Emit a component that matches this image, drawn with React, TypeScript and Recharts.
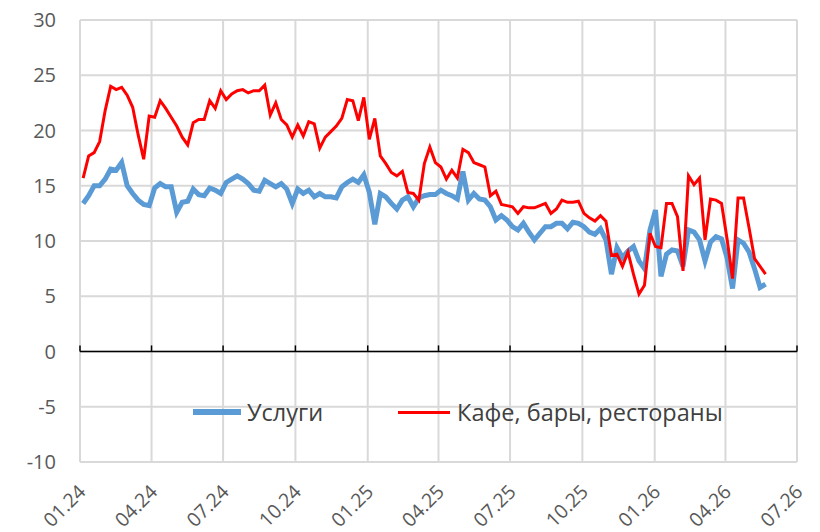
import { CartesianGrid, Line, LineChart, ReferenceLine, XAxis, YAxis } from 'recharts';

// weekly readings, first week ends 05.01.2024
const uslugi = [
  13.4, 14.1, 15.0, 15.0, 15.6, 16.5, 16.4, 17.1, 15.0, 14.3, 13.7, 13.3, 13.2, 14.8, 15.2, 14.9,
  14.9, 12.6, 13.5, 13.6, 14.7, 14.2, 14.1, 14.8, 14.6, 14.3, 15.3, 15.6, 15.9, 15.6, 15.2, 14.6,
  14.5, 15.5, 15.2, 14.9, 15.2, 14.7, 13.4, 14.7, 14.3, 14.6, 14.0, 14.3, 14.0, 14.0, 13.9, 14.9,
  15.3, 15.6, 15.3, 16.0, 14.4, 11.5, 14.3, 14.0, 13.4, 12.9, 13.7, 14.0, 13.1, 13.9, 14.1, 14.2,
  14.2, 14.6, 14.3, 14.1, 13.8, 16.3, 13.7, 14.3, 13.8, 13.7, 13.1, 11.9, 12.3, 11.9, 11.3, 11.0,
  11.6, 10.8, 10.1, 10.7, 11.3, 11.3, 11.6, 11.6, 11.1, 11.7, 11.6, 11.3, 10.8, 10.6, 11.1, 10.1,
  7.0, 9.4, 8.5, 9.1, 9.5, 8.2, 7.5, 11.0, 12.8, 6.8, 8.8, 9.2, 9.1, 7.7, 11.0, 10.8,
  10.1, 8.2, 9.9, 10.4, 10.2, 8.5, 5.7, 10.1, 9.8, 9.0, 7.5, 5.8, 6.1,
];

const kafe = [
  15.7, 17.7, 18.0, 19.0, 21.8, 24.0, 23.7, 23.9, 23.2, 22.1, 19.6, 17.4, 21.3, 21.2, 22.7, 22.0,
  21.2, 20.4, 19.4, 18.7, 20.7, 21.0, 21.0, 22.7, 22.0, 23.6, 22.8, 23.3, 23.6, 23.7, 23.4, 23.6,
  23.6, 24.1, 21.4, 22.5, 21.0, 20.5, 19.4, 20.5, 19.5, 20.8, 20.6, 18.4, 19.4, 19.9, 20.4, 21.1,
  22.8, 22.7, 20.9, 23.0, 19.2, 21.1, 17.7, 17.0, 16.2, 15.9, 16.3, 14.4, 14.3, 13.7, 17.0, 18.5,
  17.1, 16.7, 15.6, 16.4, 15.7, 18.3, 18.0, 17.1, 16.9, 16.7, 14.1, 14.5, 13.3, 13.2, 13.1, 12.5,
  13.1, 13.0, 13.0, 13.2, 13.4, 12.5, 12.9, 13.7, 13.5, 13.5, 13.6, 12.5, 12.1, 11.8, 12.3, 11.8,
  8.7, 8.8, 7.7, 9.0, 7.0, 5.2, 6.0, 10.7, 9.5, 9.4, 13.4, 13.4, 12.2, 7.3, 15.9, 15.1,
  15.7, 10.1, 13.8, 13.7, 13.4, 10.2, 6.6, 13.9, 13.9, 11.2, 8.4, 7.7, 7.0,
];

// days since 01.01.2024
const quarterDays = [0, 91, 182, 274, 366, 456, 547, 639, 731, 821, 912];
const quarterLabels = ['01.24', '04.24', '07.24', '10.24', '01.25', '04.25', '07.25', '10.25', '01.26', '04.26', '07.26'];
const yTicks = [-10, -5, 0, 5, 10, 15, 20, 25, 30];
const firstDay = 4;

const data = uslugi.map((v, i) => ({ day: firstDay + 7 * i, uslugi: v, kafe: kafe[i] }));

const FONT = '"Open Sans", "Noto Sans", sans-serif';
const GREY = '#595959';

function XTick({ x, y, payload }: any) {
  const label = quarterLabels[quarterDays.indexOf(payload.value)];
  const ax = x + 7;
  const ay = y + 31;
  return (
    <text x={ax} y={ay} transform={`rotate(-45 ${ax} ${ay})`} textAnchor="end" fill={GREY} fontSize={19.5} fontFamily={FONT}>
      {label}
    </text>
  );
}

function LegendBox() {
  return (
    <div
      style={{
        position: 'absolute',
        left: 193,
        top: 396,
        display: 'flex',
        alignItems: 'center',
        fontFamily: FONT,
        fontSize: 23.5,
        lineHeight: '32px',
        color: '#404040',
        whiteSpace: 'nowrap',
      }}
    >
      <span style={{ display: 'inline-block', width: 48, height: 6, background: '#5B9BD5', marginRight: 6 }} />
      <span>Услуги</span>
      <span style={{ display: 'inline-block', width: 52, height: 3, background: '#FF0000', marginLeft: 75, marginRight: 7 }} />
      <span>Кафе, бары, рестораны</span>
    </div>
  );
}

export default function App() {
  return (
    <div style={{ position: 'absolute', left: 0, top: 0, width: 820, height: 532, background: '#fff' }}>
      <LineChart width={820} height={532} data={data} margin={{ top: 20, right: 23, bottom: 10, left: 0 }}>
        <CartesianGrid stroke="#D9D9D9" strokeWidth={2} />
        <XAxis
          dataKey="day"
          type="number"
          domain={[0, 912]}
          ticks={quarterDays}
          interval={0}
          height={60}
          tickLine={false}
          axisLine={false}
          tickSize={0}
          tickMargin={0}
          tick={<XTick />}
        />
        <YAxis
          domain={[-10, 30]}
          ticks={yTicks}
          interval={0}
          width={80}
          tickLine={false}
          axisLine={false}
          tickSize={0}
          tickMargin={24}
          tick={{ fill: GREY, fontSize: 20, fontFamily: FONT }}
        />
        <ReferenceLine y={0} stroke="#000" strokeWidth={1.5} />
        {quarterDays.map((d) => (
          <ReferenceLine key={d} segment={[{ x: d, y: 0 }, { x: d, y: 0.55 }]} stroke="#000" strokeWidth={1.5} />
        ))}
        <Line type="linear" dataKey="uslugi" stroke="#5B9BD5" strokeWidth={5} dot={false} isAnimationActive={false} />
        <Line type="linear" dataKey="kafe" stroke="#FF0000" strokeWidth={3} dot={false} isAnimationActive={false} />
      </LineChart>
      <LegendBox />
    </div>
  );
}
